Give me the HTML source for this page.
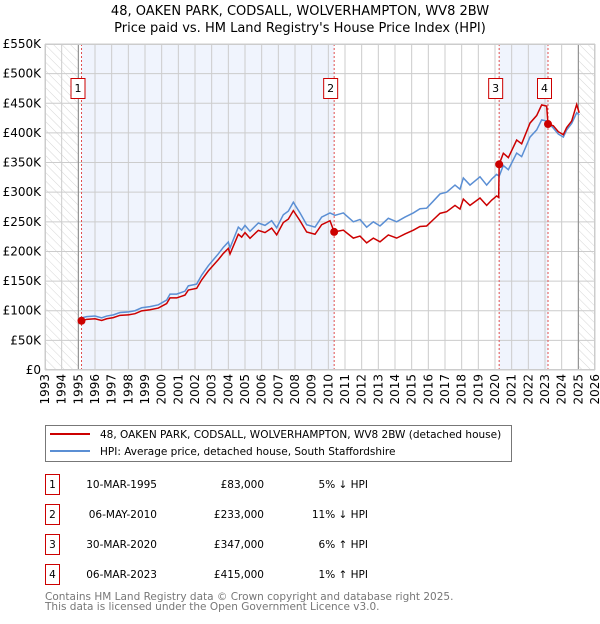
<!DOCTYPE html>
<html><head><meta charset="utf-8"><style>
body{margin:0;background:#fff;font-family:"DejaVu Sans","Liberation Sans",sans-serif;}
svg text{font-family:"DejaVu Sans","Liberation Sans",sans-serif;}
</style></head><body>
<svg id="c" width="600" height="620" viewBox="0 0 600 620" xmlns="http://www.w3.org/2000/svg">
<defs><pattern id="hatch" width="6" height="6" patternUnits="userSpaceOnUse" patternTransform="rotate(-45)"><line x1="0" y1="0" x2="0" y2="6" stroke="#ccc" stroke-width="0.8"/></pattern></defs>
<text x="300" y="15" text-anchor="middle" font-size="13">48, OAKEN PARK, CODSALL, WOLVERHAMPTON, WV8 2BW</text>
<text x="300" y="32" text-anchor="middle" font-size="13">Price paid vs. HM Land Registry's House Price Index (HPI)</text>
<g id="plot"></g>
<g>
<rect x="45.5" y="425.5" width="466" height="36" fill="#fff" stroke="#777"/>
<line x1="50" y1="434" x2="90" y2="434" stroke="#cc0000" stroke-width="2"/>
<text x="100" y="438" font-size="10.5">48, OAKEN PARK, CODSALL, WOLVERHAMPTON, WV8 2BW (detached house)</text>
<line x1="50" y1="451" x2="90" y2="451" stroke="#5b8fd4" stroke-width="2"/>
<text x="100" y="455" font-size="10.5">HPI: Average price, detached house, South Staffordshire</text>
</g>
<g id="tbl" font-size="10.5"></g>
<text x="45" y="600" font-size="10.5" fill="#777">Contains HM Land Registry data © Crown copyright and database right 2025.</text>
<text x="45" y="610" font-size="10.5" fill="#777">This data is licensed under the Open Government Licence v3.0.</text>
</svg>
<script>
const hpiYears=[1995.2,1995.5,1996.0,1996.4,1996.7,1997.1,1997.5,1998.0,1998.4,1998.8,1999.3,1999.8,2000.3,2000.5,2000.9,2001.4,2001.6,2002.1,2002.4,2002.8,2003.1,2003.4,2003.7,2004.0,2004.1,2004.6,2004.8,2005.0,2005.3,2005.8,2006.2,2006.6,2006.9,2007.3,2007.6,2007.9,2008.3,2008.7,2009.2,2009.6,2010.1,2010.4,2010.9,2011.5,2011.9,2012.3,2012.7,2013.1,2013.6,2014.1,2014.6,2015.1,2015.5,2015.9,2016.3,2016.7,2017.1,2017.6,2017.9,2018.1,2018.5,2019.1,2019.5,2019.8,2020.1,2020.25,2020.5,2020.8,2021.3,2021.6,2022.1,2022.5,2022.8,2023.1,2023.5,2023.8,2024.1,2024.3,2024.6,2024.9,2025.05];
const hpiValues=[88,90,91,88,91,93,97,98,100,105,107,110,118,128,128,133,142,145,160,176,186,196,207,216,206,241,236,244,234,248,244,252,240,262,268,283,265,245,241,258,265,261,265,250,254,241,250,243,256,250,258,265,272,273,285,297,300,312,305,324,312,326,312,322,330,327,345,338,366,360,393,405,422,420,408,398,393,405,416,434,430];
const priceYears=[1995.2,1995.5,1996.0,1996.4,1996.7,1997.1,1997.5,1998.0,1998.4,1998.8,1999.3,1999.8,2000.3,2000.5,2000.9,2001.4,2001.6,2002.1,2002.4,2002.8,2003.1,2003.4,2003.7,2004.0,2004.1,2004.6,2004.8,2005.0,2005.3,2005.8,2006.2,2006.6,2006.9,2007.3,2007.6,2007.9,2008.3,2008.7,2009.2,2009.6,2010.1,2010.35,2010.9,2011.5,2011.9,2012.3,2012.7,2013.1,2013.6,2014.1,2014.6,2015.1,2015.5,2015.9,2016.3,2016.7,2017.1,2017.6,2017.9,2018.1,2018.5,2019.1,2019.5,2019.8,2020.1,2020.22,2020.25,2020.5,2020.8,2021.3,2021.6,2022.1,2022.5,2022.8,2023.1,2023.18,2023.5,2023.8,2024.1,2024.3,2024.6,2024.9,2025.05];
const priceValues=[83,85.5,86.5,83.6,86.5,88.4,92.2,93.1,95,99.8,101.7,104.5,112.1,121.6,121.6,126.4,134.9,137.8,152,167.2,176.7,186.2,196.7,205.2,195.7,229,224.2,231.8,222.3,235.6,231.8,239.4,228,248.9,254.6,268.9,251.8,232.8,229,245.1,251.8,233,236,222.5,226,214.5,222.5,216.3,227.8,222.5,229.6,235.9,242.1,243,253.7,264.3,267,277.7,271.5,288.4,277.7,290.1,277.7,286.6,293.7,291,347,365.7,358.3,388,381.6,416.6,429.3,447.3,445.2,415,412,402,397,409,420,448,434];
const saleYears=[1995.19,2010.35,2020.25,2023.18];
const saleValues=[83,233,347,415];
const saleDates=["10-MAR-1995","06-MAY-2010","30-MAR-2020","06-MAR-2023"];
const salePrices=["£83,000","£233,000","£347,000","£415,000"];
const saleHpi=["5% ↓ HPI","11% ↓ HPI","6% ↑ HPI","1% ↑ HPI"];
const yTicks=[0,50,100,150,200,250,300,350,400,450,500,550];
const yTickLabels=["£0","£50K","£100K","£150K","£200K","£250K","£300K","£350K","£400K","£450K","£500K","£550K"];
const xTicks=[1993,1994,1995,1996,1997,1998,1999,2000,2001,2002,2003,2004,2005,2006,2007,2008,2009,2010,2011,2012,2013,2014,2015,2016,2017,2018,2019,2020,2021,2022,2023,2024,2025,2026];

const L=45,R=595,T=44,B=370;
const X=y=>L+(y-1993)/33*(R-L);
const Y=v=>B-v/550*(B-T);
const NS="http://www.w3.org/2000/svg";
const plot=document.getElementById('plot');
function mk(tag,attrs,parent){const e=document.createElementNS(NS,tag);for(const k in attrs)e.setAttribute(k,attrs[k]);(parent||plot).appendChild(e);return e;}

let bg=mk('rect',{x:L,y:T,width:R-L,height:B-T,fill:'#fff'});


const shade=[[saleYears[0],saleYears[1]],[saleYears[2],saleYears[3]]];
shade.forEach(s=>{let r=mk('rect',{x:X(s[0]),y:T,width:X(s[1])-X(s[0]),height:B-T,fill:'#f0f4fd'});

});
let h1=mk('rect',{x:L,y:T,width:X(1995)-L,height:B-T,fill:'url(#hatch)'});


let h2=mk('rect',{x:X(2025),y:T,width:R-X(2025),height:B-T,fill:'url(#hatch)'});


yTicks.forEach((t,i)=>{let g=mk('line',{x1:L,x2:R,y1:Y(t),y2:Y(t),stroke:'#ccc','stroke-width':1});


let tx=mk('text',{x:L-4,y:Y(t)+4,'text-anchor':'end','font-size':12});tx.textContent=yTickLabels[i];

});
xTicks.forEach(t=>{let g=mk('line',{x1:X(t),x2:X(t),y1:T,y2:B,stroke:'#ccc','stroke-width':1});


let tx=mk('text',{x:0,y:0,'text-anchor':'end','font-size':12,transform:`translate(${X(t)+4},374) rotate(-90)`});tx.textContent=t;

});
[1995,2025].forEach(t=>{let l=mk('line',{x1:X(t),x2:X(t),y1:T,y2:B,stroke:'#888','stroke-width':1});

});
saleYears.forEach(s=>{let l=mk('line',{x1:X(s),x2:X(s),y1:T,y2:B,stroke:'#e05050','stroke-width':1,'stroke-dasharray':'2,2'});

});
let hp=mk('polyline',{points:hpiYears.map((y,i)=>X(y)+','+Y(hpiValues[i])).join(' '),fill:'none',stroke:'#5b8fd4','stroke-width':1.5});


let pp=mk('polyline',{points:priceYears.map((y,i)=>X(y)+','+Y(priceValues[i])).join(' '),fill:'none',stroke:'#cc0000','stroke-width':1.5});


saleYears.forEach((s,i)=>{let c=mk('circle',{cx:X(s),cy:Y(saleValues[i]),r:4,fill:'#cc0000'});


let b=mk('rect',{x:X(s)-10.5,y:78.5,width:14,height:20,fill:'#fff',stroke:'#cc0000'});


let t=mk('text',{x:X(s)-3.5,y:92,'text-anchor':'middle','font-size':11});t.textContent=i+1;

});
let fr=mk('rect',{x:L+0.5,y:T+0.5,width:R-L-1,height:B-T-1,fill:'none',stroke:'#ccc'});



const tbl=document.getElementById('tbl');
saleDates.forEach((d,i)=>{const cy=483+i*30;
let b=mk('rect',{x:45.5,y:cy-8.5,width:14,height:20,fill:'#fff',stroke:'#cc0000'},tbl);


let n=mk('text',{x:52.5,y:cy+5,'text-anchor':'middle'},tbl);n.textContent=i+1;


let a=mk('text',{x:157,y:cy+5,'text-anchor':'end'},tbl);a.textContent=d;


let p=mk('text',{x:264,y:cy+5,'text-anchor':'end'},tbl);p.textContent=salePrices[i];


let h=mk('text',{x:368,y:cy+5,'text-anchor':'end'},tbl);h.textContent=saleHpi[i];

});
</script>
</body></html>
